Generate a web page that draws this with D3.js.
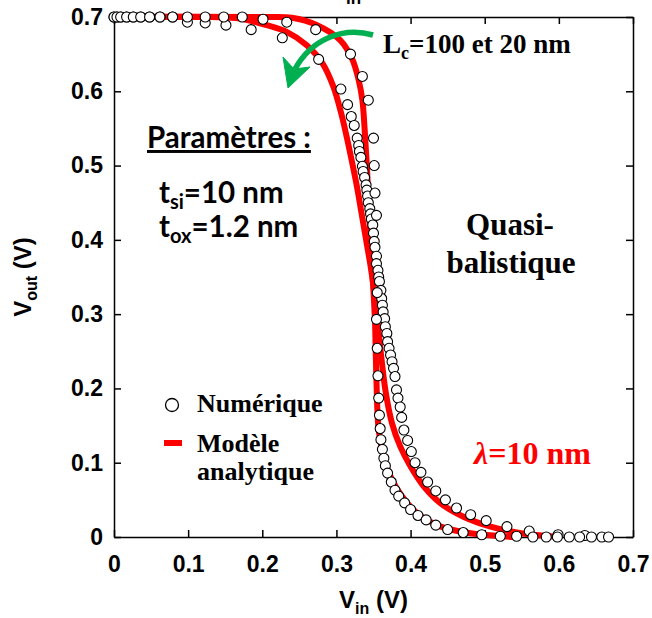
<!DOCTYPE html>
<html>
<head>
<meta charset="utf-8">
<script src="https://cdn.jsdelivr.net/npm/d3@7"></script>
<style>
  html, body { margin: 0; padding: 0; background: #fff; }
  svg { display: block; }
</style>
</head>
<body>
<svg id="chart" width="652" height="618"></svg>
<script>
// ---------- DATA ----------
const xTicks = [0, 0.1, 0.2, 0.3, 0.4, 0.5, 0.6, 0.7];
const yTicks = [0, 0.1, 0.2, 0.3, 0.4, 0.5, 0.6, 0.7];
const xTickLabels = ["0", "0.1", "0.2", "0.3", "0.4", "0.5", "0.6", "0.7"];
const yTickLabels = ["0", "0.1", "0.2", "0.3", "0.4", "0.5", "0.6", "0.7"];

// Numerical simulation, Lc = 100 nm (steep)
const numLc100X = [0, 0.004, 0.009, 0.017, 0.026, 0.036, 0.048, 0.062, 0.079, 0.099, 0.123, 0.148, 0.173,
  0.201, 0.233, 0.272, 0.319, 0.335, 0.343, 0.350, 0.351, 0.352, 0.354, 0.355, 0.354, 0.355, 0.356, 0.357,
  0.358, 0.359, 0.360, 0.362, 0.364, 0.366, 0.369, 0.374, 0.379, 0.384, 0.392, 0.400, 0.410, 0.421, 0.434,
  0.450, 0.471, 0.496, 0.521, 0.543, 0.565, 0.583, 0.598, 0.614, 0.628, 0.644, 0.658, 0.667];
const numLc100Y = [0.7, 0.7, 0.7, 0.7, 0.7, 0.7, 0.7, 0.7, 0.7, 0.7, 0.7, 0.7, 0.7,
  0.697, 0.693, 0.683, 0.650, 0.620, 0.588, 0.537, 0.500, 0.463, 0.433, 0.329, 0.293, 0.254, 0.217, 0.187,
  0.164, 0.146, 0.131, 0.118, 0.106, 0.096, 0.086, 0.074, 0.063, 0.055, 0.046, 0.037, 0.029, 0.023, 0.016,
  0.010, 0.006, 0.003, 0.001, 0.001, 0.0, 0.0, 0.0, 0.0, 0.0, 0.0, 0.0, 0.0];

// Numerical simulation, Lc = 20 nm (degraded)
const numLc20X = [0, 0.004, 0.009, 0.017, 0.026, 0.036, 0.048, 0.062, 0.079, 0.099, 0.123, 0.151, 0.185,
  0.227, 0.276, 0.306, 0.315, 0.320, 0.324, 0.328, 0.330, 0.331, 0.333, 0.335, 0.336, 0.338, 0.340, 0.341,
  0.342, 0.343, 0.345, 0.346, 0.347, 0.349, 0.350, 0.351, 0.352, 0.354, 0.354, 0.356, 0.357, 0.358,
  0.360, 0.361, 0.362, 0.363, 0.365, 0.366, 0.368, 0.369, 0.371, 0.373, 0.375, 0.377, 0.379, 0.381, 0.383,
  0.386, 0.388, 0.391, 0.396, 0.401, 0.406, 0.414, 0.423, 0.434, 0.447, 0.462, 0.481, 0.502, 0.530, 0.560,
  0.599, 0.635];
const numLc20Y = [0.7, 0.7, 0.7, 0.7, 0.7, 0.7, 0.7, 0.7, 0.7, 0.693, 0.692, 0.689, 0.683,
  0.672, 0.643, 0.603, 0.582, 0.566, 0.554, 0.537, 0.527, 0.519, 0.511, 0.499, 0.492, 0.484, 0.474, 0.467,
  0.459, 0.450, 0.442, 0.435, 0.428, 0.420, 0.409, 0.398, 0.390, 0.378, 0.368, 0.359, 0.350, 0.344,
  0.332, 0.321, 0.312, 0.303, 0.294, 0.283, 0.274, 0.263, 0.254, 0.245, 0.236, 0.227, 0.216, 0.198, 0.187,
  0.175, 0.161, 0.144, 0.130, 0.115, 0.100, 0.087, 0.074, 0.062, 0.050, 0.039, 0.030, 0.022, 0.014, 0.008,
  0.003, 0.002];

// Analytical model, Lc = 100 nm
const modLc100X = [0, 0.20, 0.24, 0.274, 0.305, 0.321, 0.330, 0.335, 0.338, 0.341, 0.344, 0.347, 0.350,
  0.352, 0.354, 0.357, 0.364, 0.375, 0.389, 0.409, 0.441, 0.481, 0.54];
const modLc100Y = [0.7, 0.7, 0.699, 0.689, 0.669, 0.644, 0.615, 0.588, 0.55, 0.50, 0.44, 0.38, 0.33,
  0.29, 0.21, 0.144, 0.108, 0.077, 0.054, 0.032, 0.014, 0.005, 0.0];

// Analytical model, Lc = 20 nm
const modLc20X = [0, 0.13, 0.17, 0.206, 0.233, 0.260, 0.281, 0.296, 0.306, 0.314, 0.321, 0.328, 0.334,
  0.340, 0.346, 0.351, 0.355, 0.359, 0.366, 0.375, 0.386, 0.400, 0.418, 0.441, 0.472, 0.508, 0.549, 0.60];
const modLc20Y = [0.7, 0.7, 0.698, 0.689, 0.680, 0.662, 0.638, 0.606, 0.572, 0.538, 0.505, 0.470, 0.435,
  0.400, 0.365, 0.330, 0.293, 0.256, 0.198, 0.153, 0.122, 0.095, 0.068, 0.045, 0.027, 0.014, 0.005, 0.0];

// ---------- DRAW ----------
(function () {
const svg = d3.select("#chart");
const pL = 114, pR = 633, pT = 17, pB = 537;
const x = d3.scaleLinear().domain([0, 0.7]).range([pL, pR]);
const y = d3.scaleLinear().domain([0, 0.7]).range([pB, pT]);

const SANS = "'Liberation Sans', Arial, sans-serif";
const SERIF = "'Liberation Serif', 'Times New Roman', serif";
const CAL = "Lato, 'Open Sans', sans-serif";

// title fragment, cropped at the top edge as in the source figure
svg.append("text").attr("x", 346).attr("y", 4)
  .attr("font-family", SANS).attr("font-weight", "bold").attr("font-size", 17).text("in");

function styleAxis(g) {
  g.select(".domain").attr("stroke", "#000").attr("stroke-width", 1.5);
  g.selectAll(".tick line").attr("stroke", "#000").attr("stroke-width", 1.5);
}

// bottom axis
const gx = svg.append("g").attr("transform", `translate(0,${pB})`)
  .call(d3.axisBottom(x).tickValues(xTicks).tickFormat((d, i) => xTickLabels[i])
    .tickSizeInner(-7).tickSizeOuter(0).tickPadding(19));
styleAxis(gx);
gx.selectAll("text").attr("font-family", SANS).attr("font-weight", "bold").attr("font-size", 23).attr("fill", "#000");

// top axis (ticks only)
const gt = svg.append("g").attr("transform", `translate(0,${pT})`)
  .call(d3.axisTop(x).tickValues(xTicks).tickFormat("").tickSizeInner(-7).tickSizeOuter(0));
styleAxis(gt);

// left axis
const gy = svg.append("g").attr("transform", `translate(${pL},0)`)
  .call(d3.axisLeft(y).tickValues(yTicks).tickFormat((d, i) => yTickLabels[i])
    .tickSizeInner(-7).tickSizeOuter(0).tickPadding(11));
styleAxis(gy);
gy.selectAll("text").attr("font-family", SANS).attr("font-weight", "bold").attr("font-size", 23).attr("fill", "#000");

// right axis (ticks only)
const gr = svg.append("g").attr("transform", `translate(${pR},0)`)
  .call(d3.axisRight(y).tickValues(yTicks).tickFormat("").tickSizeInner(-7).tickSizeOuter(0));
styleAxis(gr);

// axis titles
const xt = svg.append("text").attr("x", (pL + pR) / 2).attr("y", 608)
  .attr("text-anchor", "middle").attr("font-family", SANS).attr("font-weight", "bold").attr("font-size", 24);
xt.append("tspan").text("V");
xt.append("tspan").attr("font-size", 16).attr("dy", 6).text("in");
xt.append("tspan").attr("dy", -6).text(" (V)");

const yt = svg.append("text").attr("transform", `translate(31,${(pT + pB) / 2}) rotate(-90)`)
  .attr("text-anchor", "middle").attr("font-family", SANS).attr("font-weight", "bold").attr("font-size", 24);
yt.append("tspan").text("V");
yt.append("tspan").attr("font-size", 16).attr("dy", 6).text("out");
yt.append("tspan").attr("dy", -6).text(" (V)");

// model curves
const line = d3.line().x(d => x(d[0])).y(d => y(d[1])).curve(d3.curveCatmullRom.alpha(0.5));
[[modLc100X, modLc100Y], [modLc20X, modLc20Y]].forEach(([xs, ys]) => {
  svg.append("path").datum(xs.map((v, i) => [v, ys[i]]))
    .attr("d", line).attr("fill", "none").attr("stroke", "#ff0000")
    .attr("stroke-width", 6).attr("stroke-linejoin", "round").attr("stroke-linecap", "butt");
});

// numerical points
[[numLc20X, numLc20Y], [numLc100X, numLc100Y]].forEach(([xs, ys]) => {
  svg.append("g").selectAll("circle").data(xs.map((v, i) => [v, ys[i]])).join("circle")
    .attr("cx", d => x(d[0])).attr("cy", d => y(d[1])).attr("r", 5)
    .attr("fill", "#fff").attr("stroke", "#000").attr("stroke-width", 1.1);
});

// green arrow
svg.append("path").attr("d", "M373,35 C342,26 311,40 295,69")
  .attr("fill", "none").attr("stroke", "#00b050").attr("stroke-width", 5.5);
svg.append("path").attr("d", "M288,88 L283,57 L294,69 L310,67 Z")
  .attr("fill", "#00b050").attr("stroke", "#00b050").attr("stroke-width", 1).attr("stroke-linejoin", "round");

// Lc annotation
const lc = svg.append("text").attr("x", 383).attr("y", 53)
  .attr("font-family", SERIF).attr("font-weight", "bold").attr("font-size", 27).attr("fill", "#000");
lc.append("tspan").text("L");
lc.append("tspan").attr("font-size", 18).attr("dy", 6).text("c");
lc.append("tspan").attr("dy", -6).text("=100 et 20 nm");

// Paramètres block
svg.append("text").attr("x", 147).attr("y", 148)
  .attr("font-family", CAL).attr("font-weight", "bold").attr("font-size", 29.5)
  .style("text-decoration", "underline").text("Paramètres :");
const t1 = svg.append("text").attr("x", 159).attr("y", 203)
  .attr("font-family", CAL).attr("font-weight", "bold").attr("font-size", 29.5);
t1.append("tspan").text("t");
t1.append("tspan").attr("font-size", 20).attr("dy", 6).text("si");
t1.append("tspan").attr("dy", -6).text("=10 nm");
const t2 = svg.append("text").attr("x", 159).attr("y", 237)
  .attr("font-family", CAL).attr("font-weight", "bold").attr("font-size", 29.5);
t2.append("tspan").text("t");
t2.append("tspan").attr("font-size", 20).attr("dy", 6).text("ox");
t2.append("tspan").attr("dy", -6).text("=1.2 nm");

// Quasi-balistique
svg.append("text").attr("x", 510).attr("y", 235).attr("text-anchor", "middle")
  .attr("font-family", SERIF).attr("font-weight", "bold").attr("font-size", 31).text("Quasi-");
svg.append("text").attr("x", 511).attr("y", 273).attr("text-anchor", "middle")
  .attr("font-family", SERIF).attr("font-weight", "bold").attr("font-size", 31).text("balistique");

// lambda
const lam = svg.append("text").attr("x", 474).attr("y", 464)
  .attr("font-family", SERIF).attr("font-weight", "bold").attr("font-size", 32).attr("fill", "#ff0000");
lam.append("tspan").attr("font-style", "italic").text("λ");
lam.append("tspan").text("=10 nm");

// legend
svg.append("circle").attr("cx", 172).attr("cy", 405).attr("r", 6.5)
  .attr("fill", "#fff").attr("stroke", "#000").attr("stroke-width", 1.3);
svg.append("text").attr("x", 197).attr("y", 412)
  .attr("font-family", SERIF).attr("font-weight", "bold").attr("font-size", 26).text("Numérique");
svg.append("line").attr("x1", 164).attr("x2", 182).attr("y1", 443).attr("y2", 443)
  .attr("stroke", "#ff0000").attr("stroke-width", 6);
svg.append("text").attr("x", 197).attr("y", 452)
  .attr("font-family", SERIF).attr("font-weight", "bold").attr("font-size", 26).text("Modèle");
svg.append("text").attr("x", 197).attr("y", 480)
  .attr("font-family", SERIF).attr("font-weight", "bold").attr("font-size", 26).text("analytique");
})();
</script>
</body>
</html>
